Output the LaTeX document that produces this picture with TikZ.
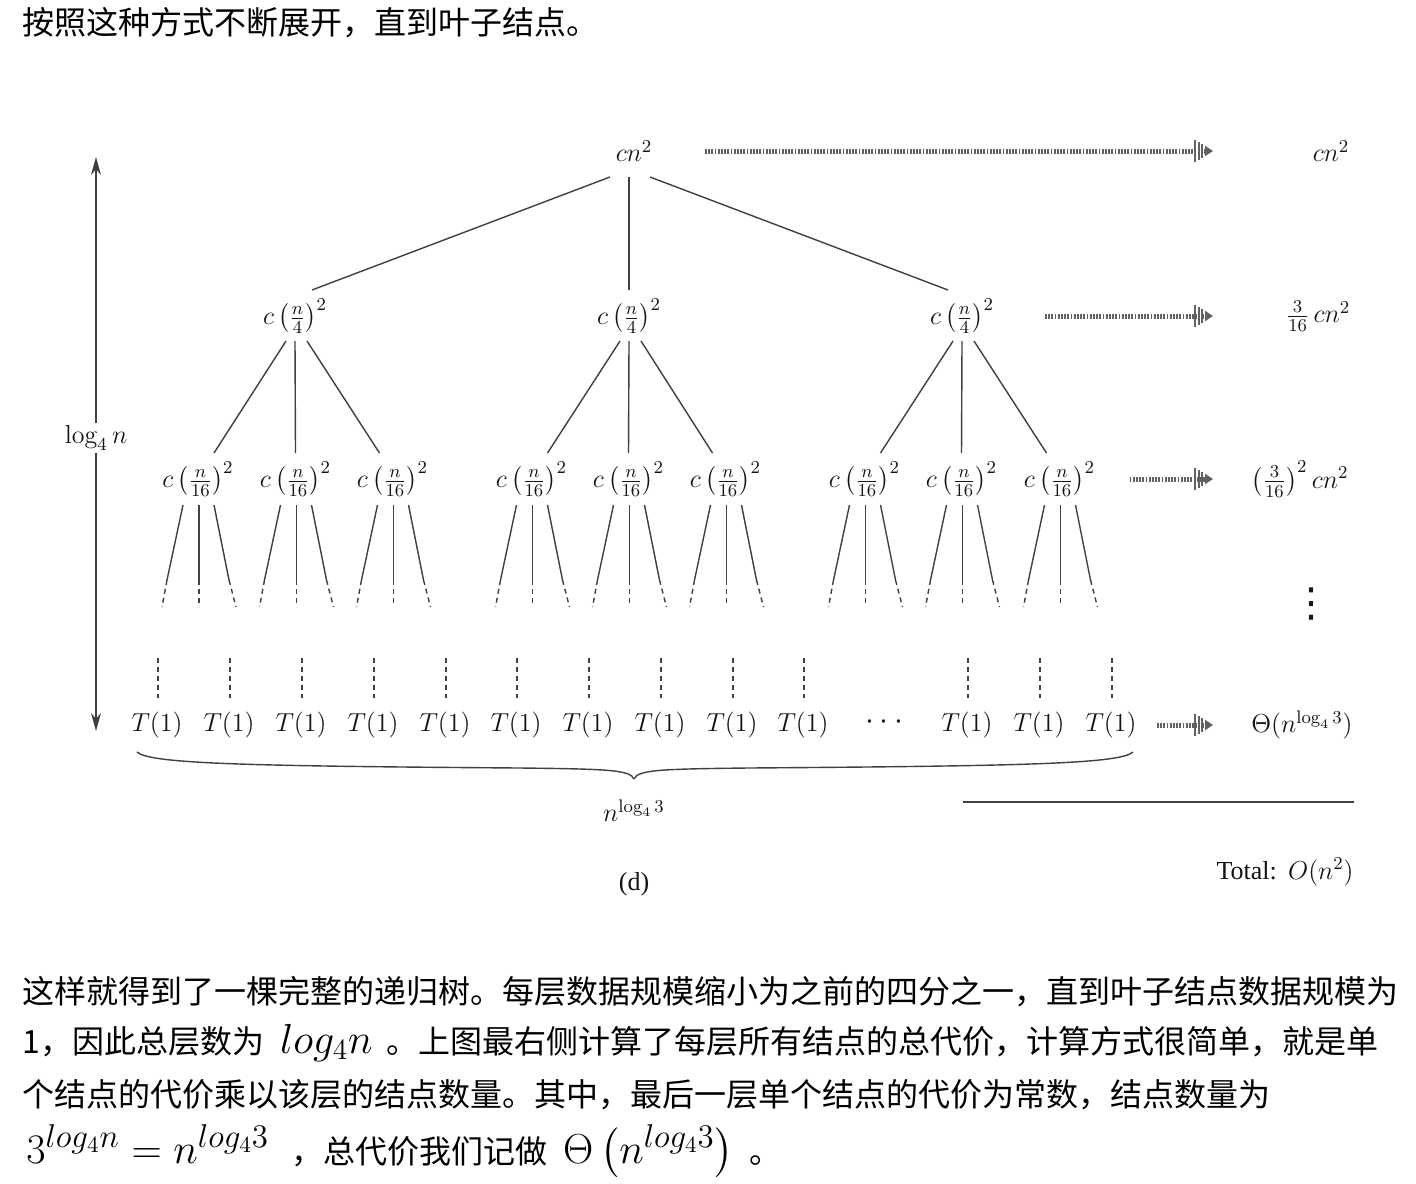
\RequirePackage{fix-cm}
\documentclass[tikz,border=0pt]{standalone}
\usepackage{amsmath}
\usepackage{fontspec}
\newfontfamily\cjk{Noto Sans CJK SC}
\newfontfamily\timesfont{Liberation Serif}
\newfontfamily\symfont{DejaVu Sans}
\usetikzlibrary{arrows.meta, positioning, calc}

\newcommand\kmath[1]{{\fontsize{21}{24}\selectfont$#1$}}
\newcommand\ksup[1]{\hbox{\fontsize{16.5}{18}\selectfont$#1$}}

\begin{document}
\begin{tikzpicture}[
    x=0.5pt, y=-0.5pt,
    term/.style={inner sep=1pt, text=black!92, font=\fontsize{13}{15}\selectfont},
    edge/.style={draw=black!75, line width=0.7pt},
    tail/.style={edge, dash pattern=on 2.5pt off 2pt},
    sumarrow/.style={draw=black!62, line width=2.5pt, dash pattern=on 0.9pt off 0.7pt,
        -{Bar[width=11pt,line width=1pt,sep=0.8pt]Bar[width=9pt,line width=1pt,sep=0.8pt]Bar[width=7pt,line width=1pt,sep=0.8pt]Triangle[length=4pt,width=5pt]}},
    para/.style={anchor=base west, inner sep=0pt, font=\cjk\fontsize{16}{26}\selectfont}
]

% Page frame
\fill[white] (0,0) rectangle (1416,1183);
\useasboundingbox (0,0) rectangle (1416,1183);

% Text above the tree
\node[para] (p0) at (22,34) {按照这种方式不断展开，直到叶子结点。};

% Root and first two levels
\node[term] (r) at (634,151) {$cn^2$};
\foreach \i/\x in {1/295, 2/629, 3/962}
    \node[term] (a\i) at (\x,316) {$c\left(\frac{n}{4}\right)^2$};
\foreach \i/\x in {1/198, 2/295.5, 3/392.5, 4/531.5, 5/628.5, 6/725.5, 7/864.5, 8/961.5, 9/1059.5}
    \node[term] (b\i) at (\x,479) {$c\left(\frac{n}{16}\right)^2$};

% Edges root -> level 1
\foreach \i/\dx/\ex in {1/-24/17, 2/-5/0, 3/16/-14}
    \draw[edge] ($(r)+(\dx,26)$) -- ($(a\i)+(\ex,-26)$);

% Edges level 1 -> level 2
\foreach \j in {1,2,3} {
    \foreach \k/\dx/\ex in {1/-9/16, 2/0/0, 3/12/-13} {
        \pgfmathtruncatemacro\c{3*(\j-1)+\k}
        \draw[edge] ($(a\j)+(\dx,25)$) -- ($(b\c)+(\ex,-26)$);
    }
}

% Edges below level 2, fading into dashes
\foreach \i in {1,...,9} {
    \foreach \dx/\mx/\ex in {-15/-31/-36, 1/1/1, 16/31/38} {
        \draw[edge] ($(b\i)+(\dx,26)$) -- ($(b\i)+(\mx,101)$);
        \draw[tail] ($(b\i)+(\mx,101)$) -- ($(b\i)+(\ex,128)$);
    }
}

% Leaves
\foreach \i/\x in {1/157, 2/229, 3/301, 4/373, 5/445, 6/516, 7/588, 8/660, 9/732, 10/803, 11/967, 12/1039, 13/1111} {
    \node[term] (t\i) at (\x,725) {$T(1)$};
    \draw[tail] ($(t\i)+(1,-67)$) -- ($(t\i)+(1,-27)$);
}
\node[term, font=\fontsize{16}{18}\selectfont] (dots) at (887,722) {$\cdots$};

% Height of the tree
\node[term] (lvl) at (96,438) {$\log_4 n$};
\coordinate (ltop) at (96,157);
\coordinate (lbot) at (96,731);
\draw[edge, -{Stealth[length=9pt,width=5pt]}] (lvl) -- (ltop);
\draw[edge, -{Stealth[length=9pt,width=5pt]}] (lvl) -- (lbot);

% Brace under the leaves
\coordinate (bl) at (137,752);
\coordinate (bm) at (634,779);
\coordinate (br) at (1133,752);
\draw[edge] (bl) .. controls (150,764) and (250,766) .. (520,768) .. controls (610,769) and (630,770) .. (bm);
\draw[edge] (br) .. controls (1120,764) and (1020,766) .. (748,768) .. controls (658,769) and (638,770) .. (bm);
\node[term, below=9pt of bm] (cnt) {$n^{\log_4 3}$};

% Cost of each level
\node[term] (s0) at (1331,151) {$cn^2$};
\node[term] (s1) at (1318,316) {$\frac{3}{16}\,cn^2$};
\node[term] (s2) at (1300,479) {$\left(\frac{3}{16}\right)^2 cn^2$};
\node[term, font=\symfont\fontsize{20}{22}\selectfont] (vd) at (1311,604) {⋮};
\node[term] (s3) at (1302,725) {$\Theta(n^{\log_4 3})$};

\draw[sumarrow] ($(r)+(71,0)$) -- ($(s0)+(-118,0)$);
\draw[sumarrow] ($(a3)+(83,0)$) -- ($(s1)+(-105,0)$);
\draw[sumarrow] ($(b9)+(70,0)$) -- ($(s2)+(-87,0)$);
\draw[sumarrow] ($(t13)+(46,0)$) -- ($(s3)+(-89,0)$);

% Total
\coordinate (rl) at (963,802);
\coordinate (rr) at (1354,802);
\draw[edge] (rl) -- (rr);
\node[term, anchor=east] (tot) at (1356,872) {{\timesfont Total:} $O(n^2)$};
\node[term, font=\timesfont\fontsize{13}{15}\selectfont] (cap) at (634,884) {(d)};

% Text below the tree
\node[para] (p1) at (22,1003) {这样就得到了一棵完整的递归树。每层数据规模缩小为之前的四分之一，直到叶子结点数据规模为};
\node[para] (p2) at (22,1053) {1，因此总层数为\hspace{8pt}\kmath{log_4n}\hspace{7pt}。上图最右侧计算了每层所有结点的总代价，计算方式很简单，就是单};
\node[para] (p3) at (22,1106) {个结点的代价乘以该层的结点数量。其中，最后一层单个结点的代价为常数，结点数量为};
\node[para] (p4) at (22,1163) {\hspace{2pt}\kmath{3^{\ksup{log_4n}}=n^{\ksup{log_43}}}\hspace{11pt}，总代价我们记做\hspace{8pt}\kmath{\Theta\,\bigl(n^{\ksup{log_43}}\bigr)}\hspace{8pt}。};

\end{tikzpicture}
\end{document}
